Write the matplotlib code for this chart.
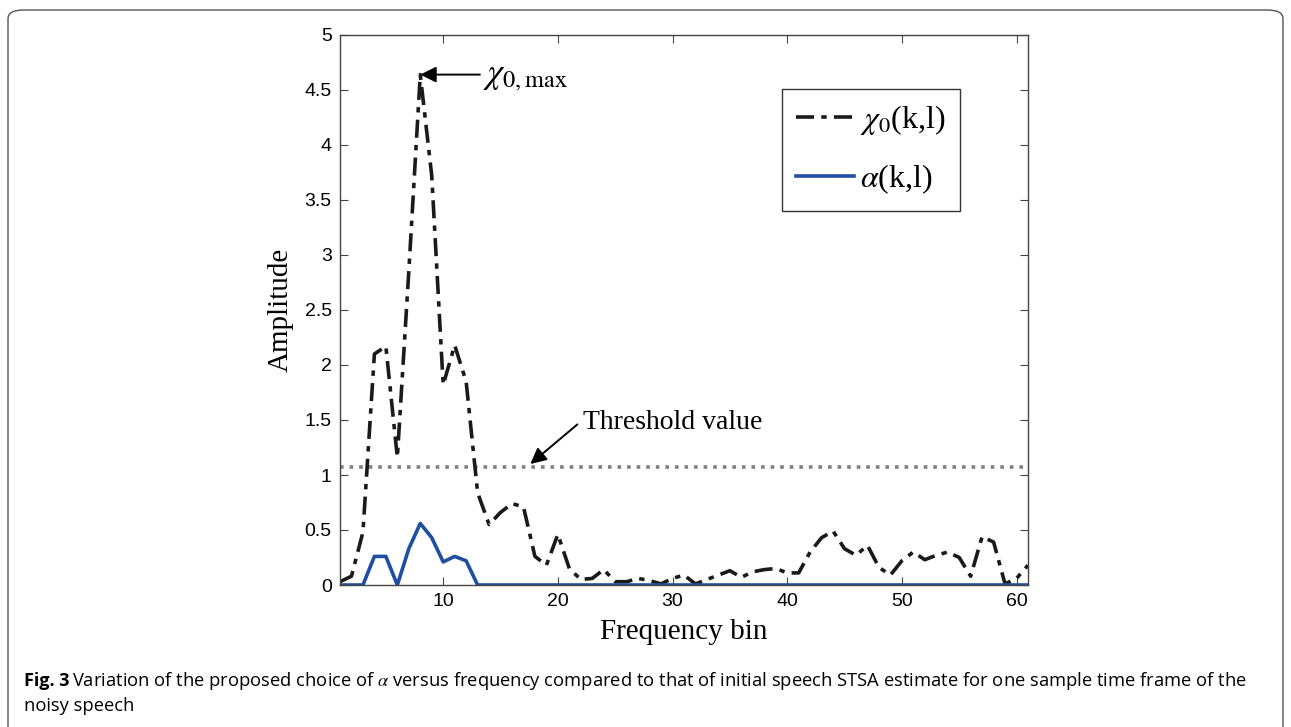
import numpy as np
import matplotlib.pyplot as plt
from matplotlib.patches import FancyBboxPatch

plt.rcParams['mathtext.fontset'] = 'stix'

# data
bins = list(range(1, 62))
chi0 = [0.03, 0.08, 0.48, 2.10, 2.17, 1.16, 2.85, 4.64, 3.72, 1.82,
        2.18, 1.85, 0.84, 0.55, 0.66, 0.74, 0.71, 0.26, 0.18, 0.46,
        0.15, 0.05, 0.06, 0.14, 0.03, 0.03, 0.06, 0.04, 0.01, 0.06,
        0.09, 0.01, 0.05, 0.09, 0.13, 0.07, 0.12, 0.14, 0.15, 0.11,
        0.11, 0.30, 0.43, 0.49, 0.33, 0.27, 0.36, 0.16, 0.09, 0.22,
        0.30, 0.23, 0.27, 0.30, 0.25, 0.08, 0.44, 0.39, 0.01, 0.06,
        0.18]
alpha = [0, 0, 0, 0.26, 0.26, 0, 0.33, 0.56, 0.43, 0.21,
         0.26, 0.22, 0] + [0] * 48
threshold = 1.07

fig = plt.figure(figsize=(12.91, 7.27), dpi=100)

# outer frame of the journal figure
frame = FancyBboxPatch((8 / 1291, -0.05), 1275 / 1291, 1.05 - 10 / 727,
                       boxstyle="round,pad=0,rounding_size=0.012",
                       transform=fig.transFigure, fill=False,
                       edgecolor='#555555', linewidth=1.0)
fig.patches.append(frame)

ax = fig.add_axes([340 / 1291, 142 / 727, 688 / 1291, 550 / 727])

ax.axhline(threshold, color='#808080', linestyle=':', linewidth=2.6)
ax.plot(bins, chi0, color='#1a1a1a', linestyle='-.', linewidth=2.6,
        dashes=(5, 2, 1.5, 2), label=r'$\chi_0$(k,l)')
ax.plot(bins, alpha, color='#1f4fa3', linewidth=2.6, label=r'$\alpha$(k,l)')

ax.set_xlim(1, 61)
ax.set_ylim(0, 5)
ax.set_xticks([10, 20, 30, 40, 50, 60])
ax.set_yticks(np.arange(0, 5.01, 0.5))
ax.set_yticklabels(['0', '0.5', '1', '1.5', '2', '2.5', '3', '3.5', '4', '4.5', '5'])
ax.tick_params(direction='in', top=True, right=True, labelsize=14,
               length=6, color='#444444', pad=6)
for lbl in ax.get_xticklabels() + ax.get_yticklabels():
    lbl.set_family('Liberation Sans')
for s in ax.spines.values():
    s.set_color('#444444')
    s.set_linewidth(1.0)

ax.set_xlabel('Frequency bin', family='Liberation Serif', fontsize=21, labelpad=6)
ax.set_ylabel('Amplitude', family='Liberation Serif', fontsize=21, labelpad=8)

# chi_max annotation
ax.annotate('', xy=(8, 4.64), xytext=(13.2, 4.64),
            arrowprops=dict(arrowstyle='-|>', color='black', lw=1.4,
                            mutation_scale=24, shrinkA=0, shrinkB=0))
ax.text(13.5, 4.565, r'$\chi_{0,\mathrm{max}}$', fontsize=25, va='baseline',
        ha='left')

# threshold annotation
ax.annotate('', xy=(17.6, 1.10), xytext=(21.7, 1.46),
            arrowprops=dict(arrowstyle='-|>', color='black', lw=1.4,
                            mutation_scale=24, shrinkA=0, shrinkB=0))
ax.text(22.2, 1.48, 'Threshold value', family='Liberation Serif', fontsize=20,
        va='center', ha='left')

leg = ax.legend(loc='upper right', bbox_to_anchor=(0.901, 0.902),
                prop={'family': 'Liberation Serif', 'size': 23},
                frameon=True, fancybox=False, handlelength=1.8,
                handletextpad=0.2, borderpad=0.45, labelspacing=0.8,
                borderaxespad=0)
leg.get_frame().set_edgecolor('black')
leg.get_frame().set_linewidth(1.0)

cap1 = ('Variation of the proposed choice of $\\alpha$ versus frequency compared to that of '
        'initial speech STSA estimate for one sample time frame of the')
fig.text(24 / 1291, 1 - 681 / 727, 'Fig. 3', fontsize=13, va='center',
         ha='left', family='Open Sans', weight='bold')
fig.text(72 / 1291, 1 - 681 / 727, cap1, fontsize=13.2, va='center',
         ha='left', family='Open Sans')
fig.text(24 / 1291, 1 - 706 / 727, 'noisy speech', fontsize=13.2, va='center',
         ha='left', family='Open Sans')

fig.savefig('out.png', dpi=100)
